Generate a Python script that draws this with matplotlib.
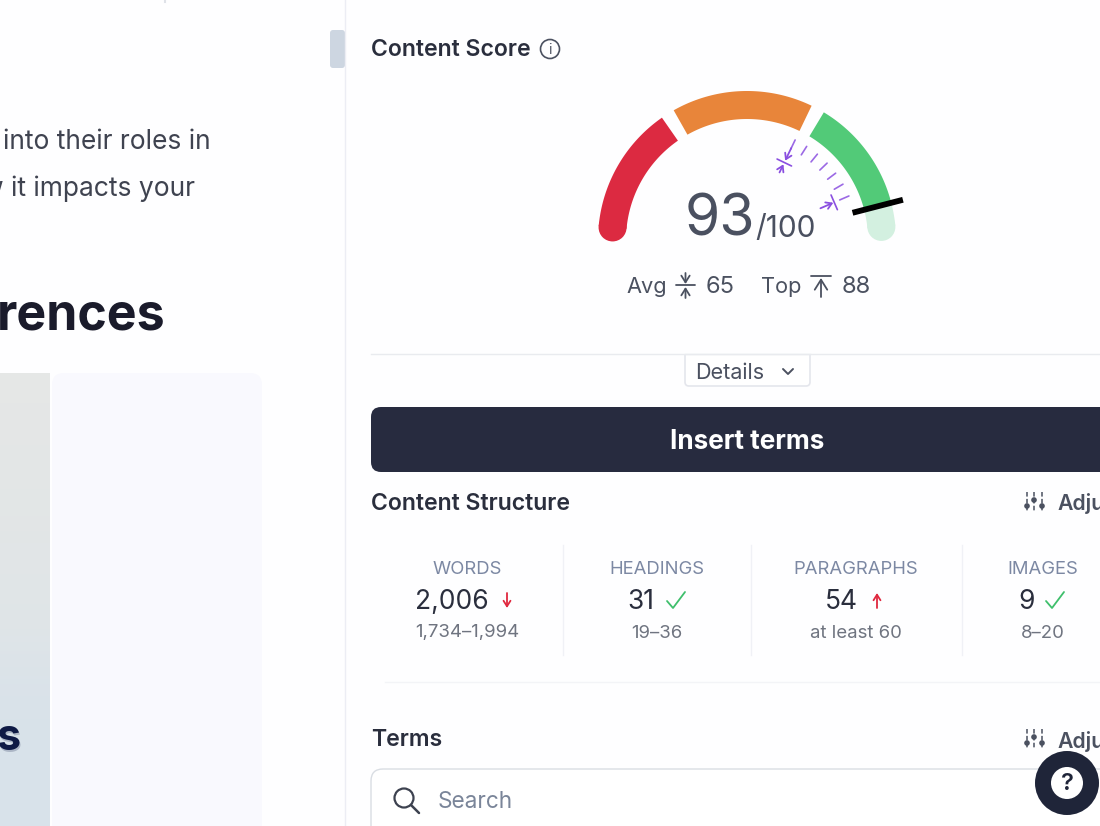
#!/usr/bin/env python3
"""
Content score gauge panel, redrawn in pixel coordinates
"""

import numpy as np
import matplotlib
matplotlib.use('Agg')
import matplotlib.pyplot as plt
from matplotlib.patches import FancyBboxPatch, Polygon, Circle, Rectangle

plt.rcParams['font.family'] = ['Inter', 'DejaVu Sans']

# Gauge data
score = 93
score_max = 100
avg_score = 65
top_score = 88
zone_starts = [3, 34, 68, 93]
zone_ends = [31, 65, 93, 98]
zone_colors = ['#dc2a41', '#e8853a', '#52ca78', '#d3f0e0']

# Content structure table
metric_names = ['WORDS', 'HEADINGS', 'PARAGRAPHS', 'IMAGES']
metric_values = ['2,006', '31', '54', '9']
metric_ranges = ['1,734–1,994', '19–36', 'at least 60', '8–20']
metric_status = ['down', 'ok', 'up', 'ok']

INK = '#2a2e3d'
GREY = '#4b5160'
PURPLE = '#8a4fe0'
RED = '#e0283f'
GREEN = '#3fbf6c'

fig = plt.figure(figsize=(11, 8.26), dpi=100, facecolor='#fefeff')
ax = fig.add_axes([0, 0, 1, 1])
ax.set_xlim(0, 1100)
ax.set_ylim(826, 0)
ax.axis('off')

# gauge geometry
cx, cy = 747, 240
r_out, r_in = 149, 121


def val_to_angle(v):
    return np.radians(180 - 1.78 * v)


def polar(r, v):
    a = val_to_angle(v)
    return cx + r * np.cos(a), cy - r * np.sin(a)


def draw_line(xs, ys, color, lw=1.5, **kw):
    ax.plot(xs, ys, color=color, lw=lw, solid_capstyle=kw.pop('cap', 'round'), **kw)


def draw_arrow(x1, y1, x2, y2, color, lw=1.3, head=5):
    ax.annotate('', xy=(x2, y2), xytext=(x1, y1),
                arrowprops=dict(arrowstyle='->,head_width=%.2f,head_length=%.2f' % (head * 0.05, head * 0.08),
                                color=color, lw=lw, shrinkA=0, shrinkB=0))


def draw_check(x, y, color):
    draw_line([x - 9, x - 3, x + 9], [y + 1, y + 8, y - 8], color, lw=1.3)


def draw_sliders(x, y):
    for dx, dot in zip([-7, 0, 8], [4, -2, 4]):
        draw_line([x + dx, x + dx], [y - 10, y + 10], GREY, lw=1.1, linestyle=(0, (3, 1.5)))
        ax.add_patch(Circle((x + dx, y + dot), 2.1, color=GREY))


# left page content
ax.imshow(np.array([[0.0], [0.1], [0.2], [0.3], [0.45], [0.8], [1.0], [1.0]]), extent=(0, 50, 826, 373),
          aspect='auto', interpolation='bilinear',
          cmap=matplotlib.colors.LinearSegmentedColormap.from_list('p', ['#e5e7e6', '#d8e2ea']), zorder=1)
ax.set_xlim(0, 1100)
ax.set_ylim(826, 0)
ax.add_patch(FancyBboxPatch((64, 385), 186, 460, boxstyle='round,pad=12', fc='#f9f9fe', ec='none'))
ax.text(211, 142, 'into their roles in', fontsize=19, color='#3f4350', ha='right', va='center')
ax.text(195, 189, 'w it impacts your', fontsize=19, color='#3f4350', ha='right', va='center')
ax.text(165, 316, 'rences', fontsize=36, color='#1a1b2b', weight='bold', ha='right', va='center')
ax.text(21.5, 741, 's', fontsize=31, color='#8f9aae', weight='bold', ha='right', va='center', alpha=0.6)
ax.text(20, 739, 's', fontsize=31, color='#0e1a45', weight='bold', ha='right', va='center')
ax.plot([165, 165], [0, 2], color='#dfe2e8', lw=1.5)

# sidebar divider and scroll handle
ax.plot([344.5, 344.5], [0, 826], color='#ecedf4', lw=1.0)
ax.add_patch(FancyBboxPatch((333, 33), 9, 32, boxstyle='round,pad=3', fc='#cdd6e1', ec='none'))

# header
ax.text(371, 50, 'Content Score', fontsize=16.6, color=INK, weight='semibold', ha='left', va='center')
ax.add_patch(Circle((550, 49), 9.5, fc='none', ec=GREY, lw=1.2))
ax.text(550, 49.5, 'i', fontsize=10, color=GREY, ha='center', va='center')

# gauge bands
for start, end, col in zip(zone_starts, zone_ends, zone_colors):
    vals = np.linspace(start, end, 60)
    outer = [polar(r_out, v) for v in vals]
    inner = [polar(r_in, v) for v in vals[::-1]]
    ax.add_patch(Polygon(outer + inner, closed=True, fc=col, ec='none', zorder=2))

# rounded ends of the arc
ax.add_patch(Circle(polar(135, zone_starts[0]), 14, fc=zone_colors[0], ec='none', zorder=2))
ax.add_patch(Circle(polar(135, zone_ends[3]), 14, fc=zone_colors[3], ec='none', zorder=2))

# score marker
mx, my = zip(polar(r_in - 12, score), polar(r_out + 12, score))
draw_line(mx, my, 'black', lw=4.2, cap='butt', zorder=4)

# dashes between avg and top
for v in np.linspace(avg_score, top_score, 7):
    dx, dy = zip(polar(101, v), polar(111, v))
    draw_line(dx, dy, PURPLE, lw=1.2, alpha=0.85)

# avg and top markers on the dashed range
for v, r_bar, half in [(avg_score, 86, 8), (top_score, 95, 8)]:
    a = val_to_angle(v)
    bx, by = cx + r_bar * np.cos(a), cy - r_bar * np.sin(a)
    tx, ty = np.sin(a) * half, np.cos(a) * half
    draw_line([bx - tx, bx + tx], [by - ty, by + ty], PURPLE, lw=1.2)
xa, ya = polar(102, avg_score)
xb, yb = polar(88, avg_score)
draw_arrow(xa, ya, xb, yb, PURPLE)
xa, ya = polar(75, avg_score)
xb, yb = polar(84, avg_score)
draw_arrow(xa, ya, xb, yb, PURPLE)
xa, ya = polar(80, top_score)
xb, yb = polar(94, top_score)
draw_arrow(xa, ya, xb, yb, PURPLE)

# score text
ax.text(685, 220, str(score), fontsize=41, color='#4a5060', ha='left', va='center', zorder=5)
ax.text(755, 229, '/%d' % score_max, fontsize=21.5, color='#4a5060', ha='left', va='center', zorder=5)

# avg / top line
ax.text(626, 287, 'Avg', fontsize=15.7, color=GREY, ha='left', va='center')
ax.text(706, 287, str(avg_score), fontsize=17, color=GREY, ha='left', va='center')
ax.text(761, 287, 'Top', fontsize=15.7, color=GREY, ha='left', va='center')
ax.text(842, 287, str(top_score), fontsize=17, color=GREY, ha='left', va='center')
draw_line([676, 695], [285, 285], GREY, lw=1.3)
draw_arrow(685.5, 273, 685.5, 284, GREY, head=6)
draw_arrow(685.5, 298, 685.5, 287, GREY, head=6)
draw_line([811, 831], [276, 276], GREY, lw=1.3)
draw_arrow(821, 297, 821, 278, GREY, head=9)

# details tab
ax.plot([371, 1100], [353.5, 353.5], color='#e9ebef', lw=1.0)
ax.add_patch(FancyBboxPatch((689, 350), 117, 32, boxstyle='round,pad=4', fc='white', ec='#e4e6ec', lw=1.2))
ax.add_patch(Rectangle((684, 340), 128, 14, fc='#fefeff', ec='none'))
ax.plot([685, 810], [353.5, 353.5], color='#e9ebef', lw=1.0)
ax.text(695, 373, 'Details', fontsize=15.5, color=GREY, ha='left', va='center')
draw_line([783, 788, 793], [369, 374, 369], GREY, lw=1.4)

# insert button
ax.add_patch(FancyBboxPatch((381, 417), 760, 45, boxstyle='round,pad=10', fc='#272b3f', ec='none'))
ax.text(747, 442, 'Insert terms', fontsize=18.8, color='white', weight='bold', ha='center', va='center')

# content structure
ax.text(371, 504, 'Content Structure', fontsize=16.6, color=INK, weight='semibold', ha='left', va='center')
draw_sliders(1034, 502)
ax.text(1057, 504, 'Adjust', fontsize=15.3, color=GREY, weight='semibold', ha='left', va='center')

col_centers = [467, 657, 856, 1043]
value_lefts = [415, 627, 825, 1018]
icon_xs = [507, 676, 877, 1055]
for xc, xl, xi, name, val, rng, status in zip(col_centers, value_lefts, icon_xs, metric_names,
                                              metric_values, metric_ranges, metric_status):
    ax.text(xc, 570, name, fontsize=13.3, color='#7c88a3', ha='center', va='center')
    ax.text(xl, 602, val, fontsize=19, color=INK, ha='left', va='center')
    ax.text(xc, 633, rng, fontsize=13.4, color='#6f7480', ha='center', va='center')
    if status == 'ok':
        draw_check(xi, 600, GREEN)
    elif status == 'down':
        draw_arrow(xi, 593, xi, 608, RED, head=5)
    else:
        draw_arrow(xi, 608, xi, 593, RED, head=5)

for x in [562.5, 750.5, 961.5]:
    ax.plot([x, x], [545, 655], color='#f0f1f6', lw=1.0)
ax.plot([385, 1100], [682, 682], color='#f3f4f7', lw=1.0)

# terms
ax.text(371, 740, 'Terms', fontsize=16.6, color=INK, weight='semibold', ha='left', va='center')
draw_sliders(1034, 739)
ax.text(1057, 741, 'Adjust', fontsize=15.3, color=GREY, weight='semibold', ha='left', va='center')

ax.add_patch(FancyBboxPatch((383, 781), 760, 70, boxstyle='round,pad=12', fc='white', ec='#d9dde3', lw=1.0))
ax.add_patch(Circle((404, 798), 9.5, fc='none', ec='#3d4250', lw=1.6))
draw_line([411, 419], [805, 813], '#3d4250', lw=1.8)
ax.text(438, 802, 'Search', fontsize=16.3, color='#7a8599', ha='left', va='center')

# help bubble
ax.add_patch(Circle((1067, 783), 32, fc='#1f2539', ec='none', zorder=6))
ax.add_patch(Circle((1067, 783), 16, fc='white', ec='none', zorder=7))
ax.text(1067, 784, '?', fontsize=17, color='#1f2539', weight='semibold', ha='center', va='center', zorder=8)

fig.savefig('out.png', dpi=100, facecolor=fig.get_facecolor())
